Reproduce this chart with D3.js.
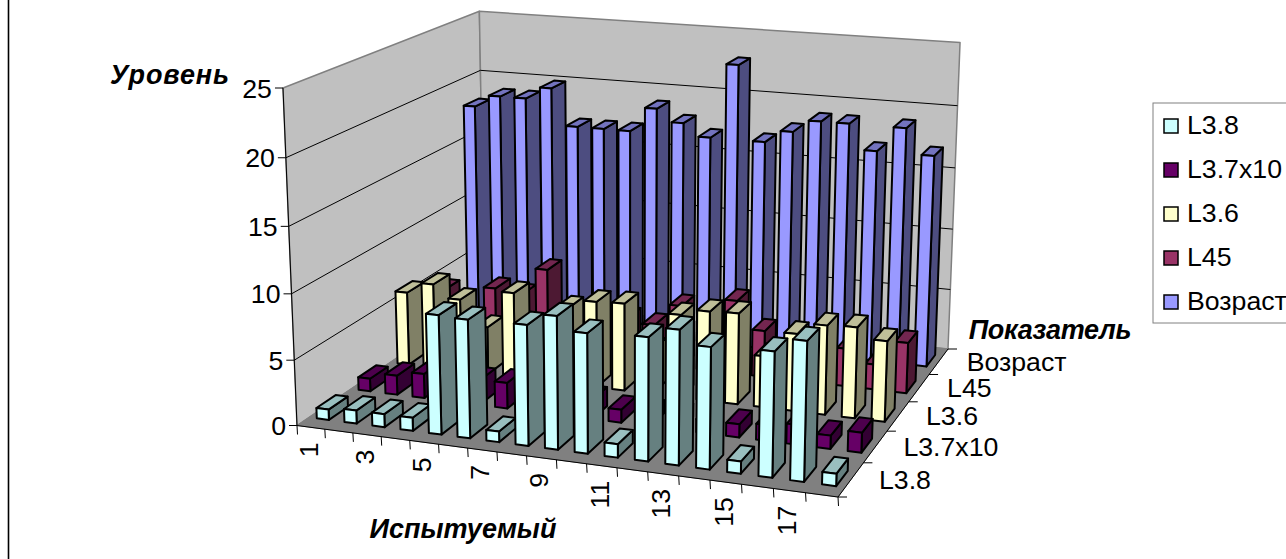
<!DOCTYPE html>
<html><head><meta charset="utf-8">
<script src="https://cdn.jsdelivr.net/npm/d3@7"></script>
<style>html,body{margin:0;padding:0;background:#fff;overflow:hidden}svg{display:block}text{font-family:"Liberation Sans",Arial,sans-serif;fill:#000}</style>
</head><body><svg id="c" width="1286" height="559"></svg>
<script>
const categories = d3.range(1, 19);
const seriesNames = ["L3.8", "L3.7x10", "L3.6", "L45", "Возраст"];
const valuesL38 = [0.8,1,1,1,9,8.9,0.8,9,9.9,8.9,1,9.1,9.9,8.9,0.9,9.1,10.1,0.9];
const valuesL37 = [1,1.5,1.9,1.5,1.9,2,1.5,1.5,1.5,1,1,1,1,1,1.2,1.5,1,1.5];
const valuesL36 = [5.9,6.8,5.8,3.8,6.8,3,6.1,6.8,6.9,3.5,6.5,7,7.1,4,6,6.9,7,6.2];
const valuesL45 = [4.2,2,4.8,4.5,6.8,3,3,3.5,3.2,5,3,5.9,3.7,3,3,3,2,4];
const valuesAge = [18,19,19,20,17,17,17,19,18,17,23,17,18,19,19,17,19,17];
const seriesValues = [valuesL38, valuesL37, valuesL36, valuesL45, valuesAge];
const valueTicks = [0,5,10,15,20,25];
const xLabels = [1,3,5,7,9,11,13,15,17];
const frontColors = ["#CCFFFF","#660066","#FFFFCC","#993366","#9999FF"];
const sideColors  = ["#668080","#330033","#808066","#4D1933","#4D4D80"];
const topColors   = ["#99BFBF","#4D004D","#BFBF99","#732650","#7373BF"];

const svg = d3.select("#c");
const A=[297,425.5],B=[838,497],C=[948,349],D=[484.5,298.5],E=[283,88],VP=[630,8437];

function solve(M,b){const n=b.length;M=M.map((r,i)=>[...r,b[i]]);for(let i=0;i<n;i++){let p=i;for(let j=i;j<n;j++)if(Math.abs(M[j][i])>Math.abs(M[p][i]))p=j;[M[i],M[p]]=[M[p],M[i]];for(let j=0;j<n;j++)if(j!==i){const f=M[j][i]/M[i][i];for(let k=i;k<=n;k++)M[j][k]-=f*M[i][k];}}return M.map((r,i)=>r[n]/r[i]);}
const src=[[0,0,A],[1,0,B],[1,1,C],[0,1,D]],rows=[],rhs=[];
src.forEach(([u,v,p])=>{rows.push([u,v,1,0,0,0,-u*p[0],-v*p[0]]);rhs.push(p[0]);rows.push([0,0,0,u,v,1,-u*p[1],-v*p[1]]);rhs.push(p[1]);});
const h=solve(rows,rhs);
const floorH=(u,v)=>[h[0]*u+h[1]*v+h[2],h[3]*u+h[4]*v+h[5],h[6]*u+h[7]*v+1];
const k=floorH(0,0)[2]*(A[1]-E[1])/(25*(E[1]-VP[1]));
function P(u,v,val){const f=floorH(u,v),w=f[2]+val*k;return [(f[0]+val*k*VP[0])/w,(f[1]+val*k*VP[1])/w];}

const xScale=d3.scaleBand().domain(categories).range([0,1]).paddingInner(0.56).paddingOuter(0.28);
const xEdge=d3.scaleLinear().domain([0,categories.length]).range([0,1]);
const zScale=d3.scaleBand().domain(seriesNames).range([0,1]).paddingInner(0.55).paddingOuter(0.275);
const zEdge=d3.scaleLinear().domain([0,seriesNames.length]).range([0,1]);
const yScale=d3.scaleLinear().domain([0,25]).range([0,25]);
const line=d3.line();
const poly=(g,pts,fill,stroke,sw)=>g.append("path").attr("d",line(pts)+"Z").attr("fill",fill).attr("stroke",stroke||"none").attr("stroke-width",sw||0).attr("stroke-linejoin","round");

const walls=svg.append("g");
const vmax=yScale(25);
poly(walls,[P(0,0,0),P(0,1,0),P(0,1,vmax),P(0,0,vmax)],"#C0C0C0","#808080",1.5);
poly(walls,[P(0,1,0),P(1,1,0),P(1,1,vmax),P(0,1,vmax)],"#C0C0C0","#808080",1.5);
poly(walls,[P(0,0,0),P(1,0,0),P(1,1,0),P(0,1,0)],"#808080","#808080",1);
valueTicks.forEach(t=>{
  const y=yScale(t);
  if(t>0&&t<25) walls.append("path").attr("d",line([P(0,0,y),P(0,1,y),P(1,1,y)])).attr("fill","none").attr("stroke","#000").attr("stroke-width",1);
  const p=P(0,0,y);
  walls.append("line").attr("x1",p[0]-8).attr("x2",p[0]).attr("y1",p[1]).attr("y2",p[1]).attr("stroke","#000");
  svg.append("text").attr("x",p[0]-11).attr("y",p[1]+9.5).attr("text-anchor","end").attr("font-size",26.7).text(t);
});
const axG=svg.append("g");
axG.append("path").attr("d",line([P(0,0,0),P(0,0,vmax)])).attr("stroke","#000").attr("fill","none");
axG.append("path").attr("d",line([P(0,0,0),P(1,0,0),P(1,1,0)])).attr("stroke","#000").attr("fill","none");
d3.range(categories.length+1).forEach(i=>{
  const p=P(xEdge(i),0,0);
  axG.append("line").attr("x1",p[0]).attr("x2",p[0]+0.5).attr("y1",p[1]).attr("y2",p[1]+9).attr("stroke","#000");
});
d3.range(seriesNames.length+1).forEach(i=>{
  const p=P(1,zEdge(i),0);
  axG.append("line").attr("x1",p[0]).attr("x2",p[0]+9).attr("y1",p[1]).attr("y2",p[1]).attr("stroke","#000");
});
xLabels.forEach(c=>{
  const p=P(xEdge(c-0.5),0,0);
  svg.append("text").attr("transform",`translate(${p[0]+7},${p[1]+15}) rotate(-90)`).attr("text-anchor","end").attr("font-size",26.7).text(c);
});
seriesNames.forEach((s,i)=>{
  const p=P(1,zEdge(i+0.5),0);
  svg.append("text").attr("x",p[0]+28).attr("y",p[1]+9).attr("font-size",26.7).text(s);
});

const bars=svg.append("g");
[4,3,2,1,0].forEach(si=>{
  const s=seriesNames[si];
  categories.forEach((c,ci)=>{
    const u0=xScale(c),u1=u0+xScale.bandwidth(),v0=zScale(s),v1=v0+zScale.bandwidth(),y=yScale(seriesValues[si][ci]);
    const g=bars.append("g");
    poly(g,[P(u1,v0,0),P(u1,v1,0),P(u1,v1,y),P(u1,v0,y)],sideColors[si],"#000",2);
    poly(g,[P(u0,v0,y),P(u1,v0,y),P(u1,v1,y),P(u0,v1,y)],topColors[si],"#000",2);
    poly(g,[P(u0,v0,0),P(u1,v0,0),P(u1,v0,y),P(u0,v0,y)],frontColors[si],"#000",2);
  });
});

const title=(t,x,y,ls)=>svg.append("text").attr("x",x).attr("y",y).attr("text-anchor","middle").attr("font-size",27).attr("font-weight","bold").attr("font-style","italic").attr("letter-spacing",ls).text(t);
title("Уровень",170,84,0.9);
title("Испытуемый",463,538,0);
title("Показатель",1050,339,-0.3);

svg.append("line").attr("x1",8.5).attr("x2",8.5).attr("y1",0).attr("y2",559).attr("stroke","#000").attr("stroke-width",1.6);
const leg=svg.append("g");
leg.append("rect").attr("x",1153).attr("y",103).attr("width",160).attr("height",220).attr("fill","#fff").attr("stroke","#808080").attr("stroke-width",1);
const legendOrder=d3.scalePoint().domain(seriesNames).range([125,301]);
seriesNames.forEach((s,i)=>{
  const y=legendOrder(s);
  leg.append("rect").attr("x",1164).attr("y",y-6).attr("width",14).attr("height",14).attr("fill",frontColors[i]).attr("stroke","#000").attr("stroke-width",1.5);
  leg.append("text").attr("x",1187).attr("y",y+9).attr("font-size",26.7).text(s);
});
</script></body></html>
